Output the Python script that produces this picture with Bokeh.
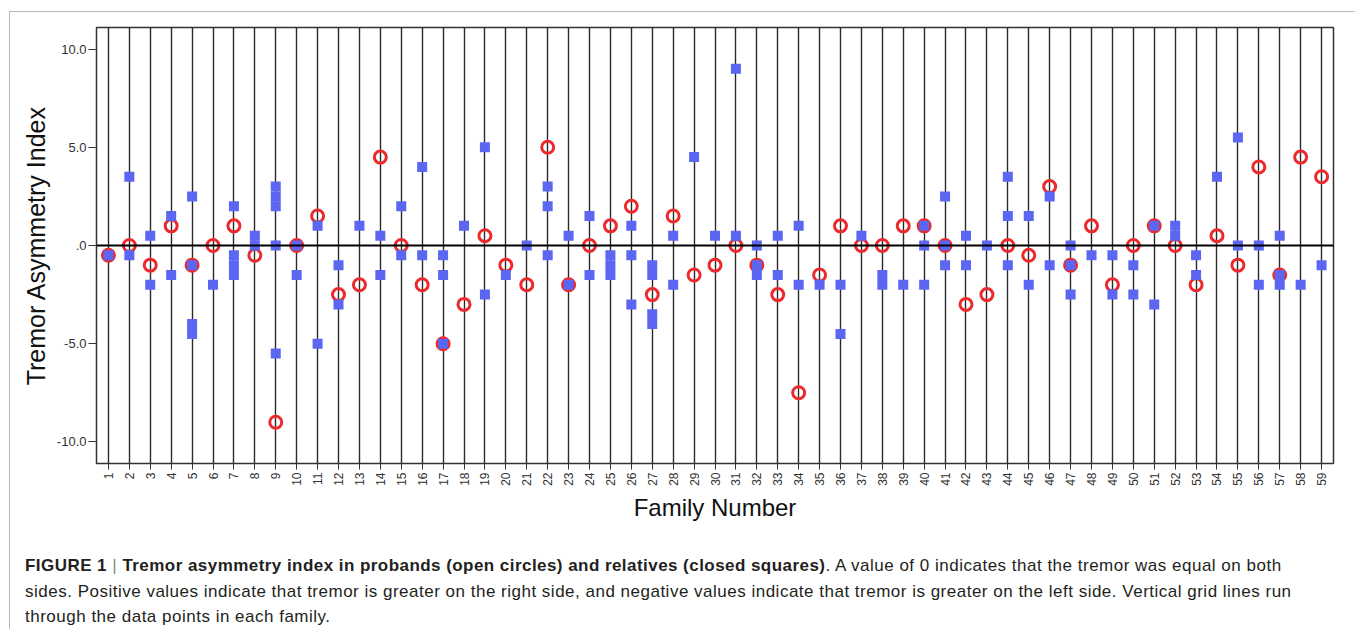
import math
from bokeh.plotting import figure
from bokeh.models import FixedTicker, Span, Range1d, Div
from bokeh.layouts import column
from bokeh.embed import file_html
from bokeh.resources import INLINE

# ---- data ----
families = list(range(1, 60))
family_labels = [str(f) for f in families]

proband_value = [
    -0.5, 0, -1, 1, -1, 0, 1, -0.5, -9, 0,
    1.5, -2.5, -2, 4.5, 0, -2, -5, -3, 0.5, -1,
    -2, 5, -2, 0, 1, 2, -2.5, 1.5, -1.5, -1,
    0, -1, -2.5, -7.5, -1.5, 1, 0, 0, 1, 1,
    0, -3, -2.5, 0, -0.5, 3, -1, 1, -2, 0,
    1, 0, -2, 0.5, -1, 4, -1.5, 4.5, 3.5,
]

relative_family = [
    1, 2, 2, 3, 3, 4, 4, 5, 5, 5, 5, 6, 7, 7, 7, 7, 8, 8,
    9, 9, 9, 9, 9, 10, 10, 11, 11, 12, 12, 13, 14, 14, 15, 15,
    16, 16, 17, 17, 17, 18, 19, 19, 20, 21, 22, 22, 22, 23, 23,
    24, 24, 25, 25, 25, 26, 26, 26, 27, 27, 27, 27, 28, 28, 29,
    30, 31, 31, 32, 32, 32, 33, 33, 34, 34, 35, 36, 36, 37, 38, 38,
    39, 40, 40, 40, 41, 41, 41, 42, 42, 43, 44, 44, 44, 45, 45,
    46, 46, 47, 47, 47, 48, 49, 49, 50, 50, 51, 51, 52, 52, 53, 53,
    54, 55, 55, 56, 56, 57, 57, 57, 58, 59,
]
relative_value = [
    -0.5, 3.5, -0.5, 0.5, -2, 1.5, -1.5, 2.5, -1, -4, -4.5, -2, 2, -0.5, -1, -1.5, 0.5, 0,
    3, 2.5, 2, 0, -5.5, 0, -1.5, 1, -5, -1, -3, 1, 0.5, -1.5, 2, -0.5,
    4, -0.5, -0.5, -1.5, -5, 1, 5, -2.5, -1.5, 0, 3, 2, -0.5, 0.5, -2,
    1.5, -1.5, -0.5, -1, -1.5, 1, -0.5, -3, -1, -1.5, -3.5, -4, 0.5, -2, 4.5,
    0.5, 9, 0.5, 0, -1, -1.5, 0.5, -1.5, 1, -2, -2, -2, -4.5, 0.5, -1.5, -2,
    -2, 1, 0, -2, 2.5, 0, -1, 0.5, -1, 0, 3.5, 1.5, -1, 1.5, -2,
    2.5, -1, 0, -1, -2.5, -0.5, -0.5, -2.5, -1, -2.5, 1, -3, 1, 0.5, -0.5, -1.5,
    3.5, 5.5, 0, 0, -2, 0.5, -1.5, -2, -2, -1,
]

y_ticks = [-10, -5, 0, 5, 10]
y_tick_labels = ["-10.0", "-5.0", ".0", "5.0", "10.0"]

FONT = "Liberation Sans"

p = figure(
    width=1344, height=528,
    x_range=Range1d(0.43, 59.57), y_range=Range1d(-11.1, 11.1),
    output_backend="svg", toolbar_location=None,
    min_border_left=86, min_border_right=21, min_border_top=15, min_border_bottom=77,
    background_fill_color="white", border_fill_color="white",
)
p.outline_line_color = "#333333"
p.outline_line_width = 1.5

# vertical grid lines through each family
p.ygrid.grid_line_color = None
p.xgrid.ticker = FixedTicker(ticks=families)
p.xgrid.grid_line_color = "#2a2a2a"
p.xgrid.grid_line_width = 1.4

p.add_layout(Span(location=0, dimension="width", line_color="black", line_width=2))

# axes
p.xaxis.ticker = FixedTicker(ticks=families)
p.xaxis.major_label_overrides = {f: lab for f, lab in zip(families, family_labels)}
p.xaxis.major_label_orientation = math.pi / 2
p.xaxis.minor_tick_line_color = None
p.xaxis.major_tick_out = 6
p.xaxis.major_tick_in = 0
p.xaxis.axis_line_color = None
p.xaxis.major_tick_line_color = "#333333"
p.xaxis.major_label_text_font = FONT
p.xaxis.major_label_text_font_size = "12px"
p.xaxis.major_label_text_color = "#333333"
p.xaxis.major_label_standoff = 3
p.xaxis.axis_label = "Family Number"
p.xaxis.axis_label_text_font = FONT
p.xaxis.axis_label_text_font_size = "24px"
p.xaxis.axis_label_text_font_style = "normal"
p.xaxis.axis_label_text_color = "#111111"
p.xaxis.axis_label_standoff = 5

p.yaxis.ticker = FixedTicker(ticks=y_ticks)
p.yaxis.major_label_overrides = {t: lab for t, lab in zip(y_ticks, y_tick_labels)}
p.yaxis.minor_tick_line_color = None
p.yaxis.major_tick_out = 8
p.yaxis.major_tick_in = 0
p.yaxis.axis_line_color = None
p.yaxis.major_tick_line_color = "#333333"
p.yaxis.major_label_text_font = FONT
p.yaxis.major_label_text_font_size = "13px"
p.yaxis.major_label_text_color = "#333333"
p.yaxis.major_label_standoff = 2
p.yaxis.axis_label = "Tremor Asymmetry Index"
p.yaxis.axis_label_text_font = FONT
p.yaxis.axis_label_text_font_size = "25px"
p.yaxis.axis_label_text_font_style = "normal"
p.yaxis.axis_label_text_color = "#111111"
p.yaxis.axis_label_standoff = 4

# probands (open circles)
p.scatter(families, proband_value, marker="circle", size=12,
          fill_color=None, line_color="#ec2a2e", line_width=3)
# relatives (closed squares)
p.scatter(relative_family, relative_value, marker="square", size=10,
          fill_color="#5b66f2", line_color=None)

caption_html = (
    '<div style="font-family: \'Liberation Sans\', Arial, sans-serif; font-size:17px; '
    'letter-spacing:0.5px; line-height:25.5px; color:#231f20; padding:8px 0 0 10px; '
    'white-space:nowrap;">'
    '<b style="letter-spacing:0.45px;">FIGURE 1</b> <span style="color:#888;">|</span> '
    '<b style="letter-spacing:0.45px;">Tremor asymmetry index in probands (open circles) and relatives (closed squares)</b>. '
    'A value of 0 indicates that the tremor was equal on both<br>'
    'sides. Positive values indicate that tremor is greater on the right side, and negative values '
    'indicate that tremor is greater on the left side. Vertical grid lines run<br>'
    'through the data points in each family.'
    '</div>'
)
cap = Div(text=caption_html, width=1344, height=89)

layout = column(p, cap, margin=(11, 0, 0, 9),
                styles={"border-left": "1px solid #b8b8b8",
                        "border-top": "1px solid #b8b8b8",
                        "border-right": "1px solid #b8b8b8"})

open("out.html", "w").write(file_html(layout, INLINE))
